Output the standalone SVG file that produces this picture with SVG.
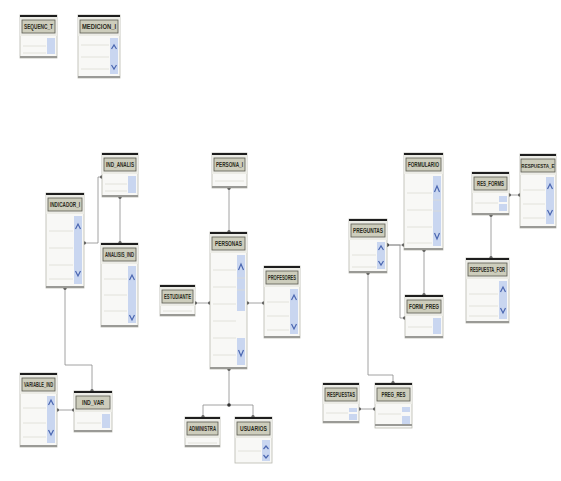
<svg xmlns="http://www.w3.org/2000/svg" width="561" height="481" viewBox="0 0 561 481">
<style>
.box{fill:#f8f8f6;stroke:#b8b8b0;stroke-width:0.8}
.top{fill:#1e1e1e}
.hdr{fill:#ecece6}
.tb{fill:#cdcdbc;stroke:#5a5a50;stroke-width:0.8}
.t{font-family:"Liberation Sans",Arial,sans-serif;font-size:6.5px;font-weight:bold;fill:#2a2a20;text-anchor:middle}
.sb{fill:#c9d6f0}
.rl{stroke:#dcdcd6;stroke-width:0.8}
.bt{fill:#9a9a96}
.ch{fill:none;stroke:#4a66b0;stroke-width:1.2}
.cn{fill:none;stroke:#8a8a8a;stroke-width:0.8;marker-start:url(#dot);marker-end:url(#dot)}
</style>
<defs>
<marker id="dot" viewBox="0 0 6 6" refX="3" refY="3" markerWidth="6" markerHeight="6" markerUnits="userSpaceOnUse">
<circle cx="3" cy="3" r="1.8" fill="#333"/>
</marker>
</defs>
<rect width="561" height="481" fill="#ffffff"/>

<g id="connectors">
<path class="cn" d="M84,243 H98 V177 H102"/>
<path class="cn" d="M120,197 V243"/>
<path class="cn" d="M65,288 V365 H92 V391"/>
<path class="cn" d="M57,410 H74"/>
<path class="cn" d="M229,188 V232"/>
<path class="cn" d="M195,303 H210"/>
<path class="cn" d="M247,303 H264"/>
<path class="cn" d="M229,369 V405 H203 V417"/>
<path class="cn" d="M229,405 H253 V417"/>
<path class="cn" d="M404,245 H387"/>
<path class="cn" d="M387,245 H400 V318 H405"/>
<path class="cn" d="M424,250 V295"/>
<path class="cn" d="M368,273 V375 H393 V383"/>
<path class="cn" d="M359,409 H375"/>
<path class="cn" d="M509,195 H520"/>
<path class="cn" d="M491,215 V258"/>
</g>

<g id="sequenc_t" transform="translate(20,15)">
<rect class="box" width="37" height="43"/><rect class="top" width="37" height="2"/><rect class="hdr" y="2" width="37" height="19"/>
<rect class="tb" x="2" y="5" width="33" height="13"/><text class="t" x="18.5" y="14" textLength="29" lengthAdjust="spacingAndGlyphs">SEQUENC_T</text>
<rect class="sb" x="27" y="23" width="8" height="16"/>
<line class="rl" x1="3" x2="26" y1="31" y2="31"/><line class="rl" x1="3" x2="26" y1="38" y2="38"/>
<rect class="bt" y="41" width="37" height="2"/>
</g>

<g id="medicion_i" transform="translate(78,15)">
<rect class="box" width="42" height="63"/><rect class="top" width="42" height="2"/><rect class="hdr" y="2" width="42" height="19"/>
<rect class="tb" x="2" y="5" width="38" height="13"/><text class="t" x="21" y="14" textLength="34" lengthAdjust="spacingAndGlyphs">MEDICION_I</text>
<rect class="sb" x="32" y="23" width="8" height="36"/>
<path class="ch" d="M33.5,34 L36,30 L38.5,34"/><path class="ch" d="M33.5,50 L36,54 L38.5,50"/>
<line class="rl" x1="3" x2="31" y1="30" y2="30"/><line class="rl" x1="3" x2="31" y1="42" y2="42"/><line class="rl" x1="3" x2="31" y1="54" y2="54"/>
<rect class="bt" y="61" width="42" height="2"/>
</g>

<g id="ind_analis" transform="translate(102,153)">
<rect class="box" width="36" height="44"/><rect class="top" width="36" height="2"/><rect class="hdr" y="2" width="36" height="19"/>
<rect class="tb" x="2" y="5" width="32" height="13"/><text class="t" x="18" y="14" textLength="28" lengthAdjust="spacingAndGlyphs">IND_ANALIS</text>
<rect class="sb" x="26" y="23" width="8" height="17"/>
<line class="rl" x1="3" x2="25" y1="31" y2="31"/><line class="rl" x1="3" x2="25" y1="38" y2="38"/>
<rect class="bt" y="42" width="36" height="2"/>
</g>

<g id="indicador_i" transform="translate(46,193)">
<rect class="box" width="38" height="95"/><rect class="top" width="38" height="2"/><rect class="hdr" y="2" width="38" height="19"/>
<rect class="tb" x="2" y="5" width="34" height="13"/><text class="t" x="19" y="14" textLength="30" lengthAdjust="spacingAndGlyphs">INDICADOR_I</text>
<rect class="sb" x="28" y="23" width="8" height="68"/>
<path class="ch" d="M29.5,36 L32,31 L34.5,36"/><path class="ch" d="M29.5,78 L32,83 L34.5,78"/>
<line class="rl" x1="3" x2="27" y1="38" y2="38"/><line class="rl" x1="3" x2="27" y1="55" y2="55"/><line class="rl" x1="3" x2="27" y1="72" y2="72"/><line class="rl" x1="3" x2="27" y1="86" y2="86"/>
<rect class="bt" y="93" width="38" height="2"/>
</g>

<g id="analisis_ind" transform="translate(101,243)">
<rect class="box" width="37" height="84"/><rect class="top" width="37" height="2"/><rect class="hdr" y="2" width="37" height="19"/>
<rect class="tb" x="2" y="5" width="33" height="13"/><text class="t" x="18.5" y="14" textLength="29" lengthAdjust="spacingAndGlyphs">ANALISIS_IND</text>
<rect class="sb" x="27" y="23" width="8" height="57"/>
<path class="ch" d="M28.5,37 L31,32 L33.5,37"/><path class="ch" d="M28.5,72 L31,77 L33.5,72"/>
<line class="rl" x1="3" x2="26" y1="36" y2="36"/><line class="rl" x1="3" x2="26" y1="52" y2="52"/><line class="rl" x1="3" x2="26" y1="68" y2="68"/>
<rect class="bt" y="82" width="37" height="2"/>
</g>

<g id="variable_ind" transform="translate(20,373)">
<rect class="box" width="37" height="74"/><rect class="top" width="37" height="2"/><rect class="hdr" y="2" width="37" height="19"/>
<rect class="tb" x="2" y="5" width="33" height="13"/><text class="t" x="18.5" y="14" textLength="29" lengthAdjust="spacingAndGlyphs">VARIABLE_IND</text>
<rect class="sb" x="27" y="23" width="8" height="47"/>
<path class="ch" d="M28.5,32 L31,27 L33.5,32"/><path class="ch" d="M28.5,57 L31,62 L33.5,57"/>
<line class="rl" x1="3" x2="26" y1="35" y2="35"/><line class="rl" x1="3" x2="26" y1="50" y2="50"/><line class="rl" x1="3" x2="26" y1="64" y2="64"/>
<rect class="bt" y="72" width="37" height="2"/>
</g>

<g id="ind_var" transform="translate(74,391)">
<rect class="box" width="38" height="41"/><rect class="top" width="38" height="2"/><rect class="hdr" y="2" width="38" height="19"/>
<rect class="tb" x="2" y="5" width="34" height="13"/><text class="t" x="19" y="14" textLength="22" lengthAdjust="spacingAndGlyphs">IND_VAR</text>
<rect class="sb" x="28" y="23" width="8" height="14"/>
<line class="rl" x1="3" x2="27" y1="32" y2="32"/>
<rect class="bt" y="39" width="38" height="2"/>
</g>

<g id="persona_i" transform="translate(212,153)">
<rect class="box" width="35" height="35"/><rect class="top" width="35" height="2"/><rect class="hdr" y="2" width="35" height="19"/>
<rect class="tb" x="2" y="5" width="31" height="13"/><text class="t" x="17.5" y="14" textLength="27" lengthAdjust="spacingAndGlyphs">PERSONA_I</text>
<line class="rl" x1="3" x2="32" y1="28" y2="28"/>
<rect class="bt" y="33" width="35" height="2"/>
</g>

<g id="persona" transform="translate(210,232)">
<rect class="box" width="37" height="137"/><rect class="top" width="37" height="2"/><rect class="hdr" y="2" width="37" height="19"/>
<rect class="tb" x="2" y="5" width="33" height="13"/><text class="t" x="18.5" y="14" textLength="27" lengthAdjust="spacingAndGlyphs">PERSONAS</text>
<rect class="sb" x="27" y="23" width="8" height="56"/>
<rect class="sb" x="27" y="106" width="8" height="27"/>
<path class="ch" d="M28.5,38 L31,32 L33.5,38"/><path class="ch" d="M28.5,118 L31,124 L33.5,118"/>
<line class="rl" x1="27" x2="35" y1="46" y2="46"/><line class="rl" x1="27" x2="35" y1="58" y2="58"/>
<line class="rl" x1="3" x2="26" y1="38" y2="38"/><line class="rl" x1="3" x2="26" y1="55" y2="55"/><line class="rl" x1="3" x2="26" y1="72" y2="72"/><line class="rl" x1="3" x2="26" y1="89" y2="89"/><line class="rl" x1="3" x2="26" y1="106" y2="106"/><line class="rl" x1="3" x2="26" y1="123" y2="123"/>
<rect class="bt" y="135" width="37" height="2"/>
</g>

<g id="estudiante" transform="translate(160,285)">
<rect class="box" width="35" height="31"/><rect class="top" width="35" height="2"/><rect class="hdr" y="2" width="35" height="19"/>
<rect class="tb" x="2" y="5" width="31" height="13"/><text class="t" x="17.5" y="14" textLength="27" lengthAdjust="spacingAndGlyphs">ESTUDIANTE</text>
<line class="rl" x1="3" x2="32" y1="26" y2="26"/>
<rect class="bt" y="29" width="35" height="2"/>
</g>

<g id="profesores" transform="translate(264,266)">
<rect class="box" width="36" height="72"/><rect class="top" width="36" height="2"/><rect class="hdr" y="2" width="36" height="19"/>
<rect class="tb" x="2" y="5" width="32" height="13"/><text class="t" x="18" y="14" textLength="28" lengthAdjust="spacingAndGlyphs">PROFESORES</text>
<rect class="sb" x="26" y="23" width="8" height="45"/>
<path class="ch" d="M27.5,34 L30,29 L32.5,34"/><path class="ch" d="M27.5,58 L30,63 L32.5,58"/>
<line class="rl" x1="3" x2="25" y1="36" y2="36"/><line class="rl" x1="3" x2="25" y1="50" y2="50"/><line class="rl" x1="3" x2="25" y1="64" y2="64"/>
<rect class="bt" y="70" width="36" height="2"/>
</g>

<g id="administra" transform="translate(185,417)">
<rect class="box" width="35" height="30"/><rect class="top" width="35" height="2"/><rect class="hdr" y="2" width="35" height="19"/>
<rect class="tb" x="2" y="5" width="31" height="13"/><text class="t" x="17.5" y="14" textLength="27" lengthAdjust="spacingAndGlyphs">ADMINISTRA</text>
<line class="rl" x1="3" x2="32" y1="26" y2="26"/>
<rect class="bt" y="28" width="35" height="2"/>
</g>

<g id="usuarios" transform="translate(235,417)">
<rect class="box" width="37" height="46"/><rect class="top" width="37" height="2"/><rect class="hdr" y="2" width="37" height="19"/>
<rect class="tb" x="2" y="5" width="33" height="13"/><text class="t" x="18.5" y="14" textLength="27" lengthAdjust="spacingAndGlyphs">USUARIOS</text>
<rect class="sb" x="27" y="23" width="8" height="21"/>
<path class="ch" d="M28.5,32 L31,29 L33.5,32"/><path class="ch" d="M28.5,38 L31,41 L33.5,38"/>
<line class="rl" x1="3" x2="26" y1="34" y2="34"/>
</g>

<g id="formulario" transform="translate(404,153)">
<rect class="box" width="39" height="97"/><rect class="top" width="39" height="2"/><rect class="hdr" y="2" width="39" height="19"/>
<rect class="tb" x="2" y="5" width="35" height="13"/><text class="t" x="19.5" y="14" textLength="31" lengthAdjust="spacingAndGlyphs">FORMULARIO</text>
<rect class="sb" x="29" y="23" width="8" height="70"/>
<path class="ch" d="M30.5,39 L33,33 L35.5,39"/><path class="ch" d="M30.5,80 L33,86 L35.5,80"/>
<line class="rl" x1="29" x2="37" y1="47" y2="47"/><line class="rl" x1="29" x2="37" y1="58" y2="58"/>
<line class="rl" x1="3" x2="28" y1="40" y2="40"/><line class="rl" x1="3" x2="28" y1="57" y2="57"/><line class="rl" x1="3" x2="28" y1="74" y2="74"/><line class="rl" x1="3" x2="28" y1="90" y2="90"/>
<rect class="bt" y="95" width="39" height="2"/>
</g>

<g id="preguntas" transform="translate(349,219)">
<rect class="box" width="38" height="54"/><rect class="top" width="38" height="2"/><rect class="hdr" y="2" width="38" height="19"/>
<rect class="tb" x="2" y="5" width="34" height="13"/><text class="t" x="19" y="14" textLength="30" lengthAdjust="spacingAndGlyphs">PREGUNTAS</text>
<rect class="sb" x="28" y="23" width="8" height="27"/>
<path class="ch" d="M29.5,31 L32,27 L34.5,31"/><path class="ch" d="M29.5,42 L32,46 L34.5,42"/>
<line class="rl" x1="3" x2="27" y1="36" y2="36"/><line class="rl" x1="3" x2="27" y1="48" y2="48"/>
<rect class="bt" y="52" width="38" height="2"/>
</g>

<g id="form_preg" transform="translate(405,295)">
<rect class="box" width="38" height="43"/><rect class="top" width="38" height="2"/><rect class="hdr" y="2" width="38" height="19"/>
<rect class="tb" x="2" y="5" width="34" height="13"/><text class="t" x="19" y="14" textLength="30" lengthAdjust="spacingAndGlyphs">FORM_PREG</text>
<rect class="sb" x="28" y="23" width="8" height="16"/>
<line class="rl" x1="3" x2="27" y1="32" y2="32"/>
<rect class="bt" y="41" width="38" height="2"/>
</g>

<g id="respuestas" transform="translate(323,383)">
<rect class="box" width="36" height="40"/><rect class="top" width="36" height="2"/><rect class="hdr" y="2" width="36" height="19"/>
<rect class="tb" x="2" y="5" width="32" height="13"/><text class="t" x="18" y="14" textLength="28" lengthAdjust="spacingAndGlyphs">RESPUESTAS</text>
<rect class="sb" x="26" y="25" width="8" height="4"/><rect class="sb" x="26" y="31" width="8" height="6"/>
<line class="rl" x1="3" x2="25" y1="30" y2="30"/>
<rect class="bt" y="38" width="36" height="2"/>
</g>

<g id="preg_res" transform="translate(375,383)">
<rect class="box" width="37" height="45"/><rect class="top" width="37" height="2"/><rect class="hdr" y="2" width="37" height="19"/>
<rect class="tb" x="2" y="5" width="33" height="13"/><text class="t" x="18.5" y="14" textLength="24" lengthAdjust="spacingAndGlyphs">PREG_RES</text>
<rect class="sb" x="27" y="24" width="8" height="5"/><rect class="sb" x="27" y="33" width="8" height="8"/>
<line class="rl" x1="3" x2="26" y1="31" y2="31"/>
<rect class="bt" y="41" width="37" height="2"/>
</g>

<g id="res_forms" transform="translate(472,172)">
<rect class="box" width="37" height="43"/><rect class="top" width="37" height="2"/><rect class="hdr" y="2" width="37" height="19"/>
<rect class="tb" x="2" y="5" width="33" height="13"/><text class="t" x="18.5" y="14" textLength="27" lengthAdjust="spacingAndGlyphs">RES_FORMS</text>
<rect class="sb" x="27" y="24" width="8" height="6"/><rect class="sb" x="27" y="32" width="8" height="7"/>
<line class="rl" x1="3" x2="26" y1="31" y2="31"/>
<rect class="bt" y="41" width="37" height="2"/>
</g>

<g id="respuesta_e" transform="translate(520,154)">
<rect class="box" width="36" height="74"/><rect class="top" width="36" height="2"/><rect class="hdr" y="2" width="36" height="19"/>
<rect class="tb" x="1" y="5" width="34" height="13"/><text class="t" x="18" y="13.5" style="font-size:4.6px">RESPUESTA_E</text>
<rect class="sb" x="26" y="23" width="8" height="47"/>
<path class="ch" d="M27.5,35 L30,30 L32.5,35"/><path class="ch" d="M27.5,56 L30,61 L32.5,56"/>
<line class="rl" x1="3" x2="25" y1="36" y2="36"/><line class="rl" x1="3" x2="25" y1="50" y2="50"/><line class="rl" x1="3" x2="25" y1="64" y2="64"/>
<rect class="bt" y="72" width="36" height="2"/>
</g>

<g id="respuesta_for" transform="translate(466,258)">
<rect class="box" width="43" height="65"/><rect class="top" width="43" height="2"/><rect class="hdr" y="2" width="43" height="19"/>
<rect class="tb" x="2" y="5" width="39" height="13"/><text class="t" x="21.5" y="14" textLength="35" lengthAdjust="spacingAndGlyphs">RESPUESTA_FOR</text>
<rect class="sb" x="33" y="23" width="8" height="38"/>
<path class="ch" d="M34.5,34 L37,29 L39.5,34"/><path class="ch" d="M34.5,50 L37,55 L39.5,50"/>
<line class="rl" x1="3" x2="32" y1="36" y2="36"/><line class="rl" x1="3" x2="32" y1="48" y2="48"/><line class="rl" x1="3" x2="32" y1="58" y2="58"/>
<rect class="bt" y="63" width="43" height="2"/>
</g>
</svg>
